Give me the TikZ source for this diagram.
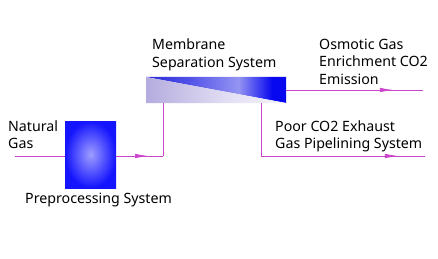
\documentclass[tikz,border=0pt]{standalone}
\usepackage{fontspec}
\setmainfont{Noto Sans}
\usetikzlibrary{decorations.markings,arrows.meta}
\definecolor{flow}{HTML}{CC44CC}
\definecolor{memA}{HTML}{2A2AD8}
\definecolor{memB}{HTML}{5050E8}
\definecolor{memC}{HTML}{9494F2}
\definecolor{memD}{HTML}{0808F0}
\definecolor{lowA}{HTML}{B4ACDE}
\definecolor{lowB}{HTML}{E4E0F4}
\definecolor{lowC}{HTML}{F4F2FB}
\pgfdeclarehorizontalshading{memtop}{100bp}{color(0bp)=(memA);color(25bp)=(memA);color(40bp)=(memB);color(58bp)=(memC);color(70bp)=(memD);color(75bp)=(memD);color(100bp)=(memD)}
\pgfdeclarehorizontalshading{membot}{100bp}{color(0bp)=(lowA);color(25bp)=(lowA);color(55bp)=(lowB);color(75bp)=(lowC);color(100bp)=(lowC)}
\tikzset{
  flowline/.style={draw=flow, line width=0.7pt},
  midarrow/.style={postaction={decorate},decoration={markings,mark=at position #1 with {\arrow[flow]{Latex[length=13pt,width=4.5pt]}}}},
  lbl/.style={font=\fontsize{14.2}{17.2}\selectfont, align=left, inner sep=0pt, anchor=north west, text=black}
}
\begin{document}
\begin{tikzpicture}[x=1pt,y=-1pt]
\useasboundingbox[fill=white] (0,0) rectangle (438,259);
% preprocessing box
\shade[inner color=blue!38!white, outer color=blue!92] (65,121) rectangle (116,188);
\node[inner sep=0pt, minimum width=51pt, minimum height=67pt] (pre) at (90.5,154.5) {};
% membrane box
\shade[shading=memtop] (146,77) -- (286,77) -- (286,103) -- cycle;
\shade[shading=membot] (146,77) -- (286,103) -- (146,103) -- cycle;
\node[inner sep=0pt, minimum width=140pt, minimum height=26pt] (mem) at (216,90) {};
% coordinates
\coordinate (ngin) at (15,156);
\coordinate (c1) at (163,156);
\coordinate (m1) at (163,103);
\coordinate (m2) at (261,103);
\coordinate (c2) at (261,156);
\coordinate (outtop) at (423,90);
\coordinate (outbot) at (425,156);
% connectors
\draw[flowline] (ngin) -- (ngin -| pre.west);
\draw[flowline, midarrow=0.68] (pre.east |- c1) -- (c1);
\draw[flowline] (c1) -- (m1);
\draw[flowline, midarrow=0.78] (mem.east) -- (outtop);
\draw[flowline] (m2) -- (c2);
\draw[flowline, midarrow=0.835] (c2) -- (outbot);
% labels
\node[lbl] (t1) at (8,120.5) {Natural\\Gas};
\node[lbl] (t2) at (25,193) {Preprocessing System};
\node[lbl] (t3) at (152,39) {Membrane\\Separation System};
\node[lbl] (t4) at (319,39) {Osmotic Gas\\Enrichment CO2\\Emission};
\node[lbl] (t5) at (275,120.5) {Poor CO2 Exhaust\\Gas Pipelining System};
\end{tikzpicture}
\end{document}
